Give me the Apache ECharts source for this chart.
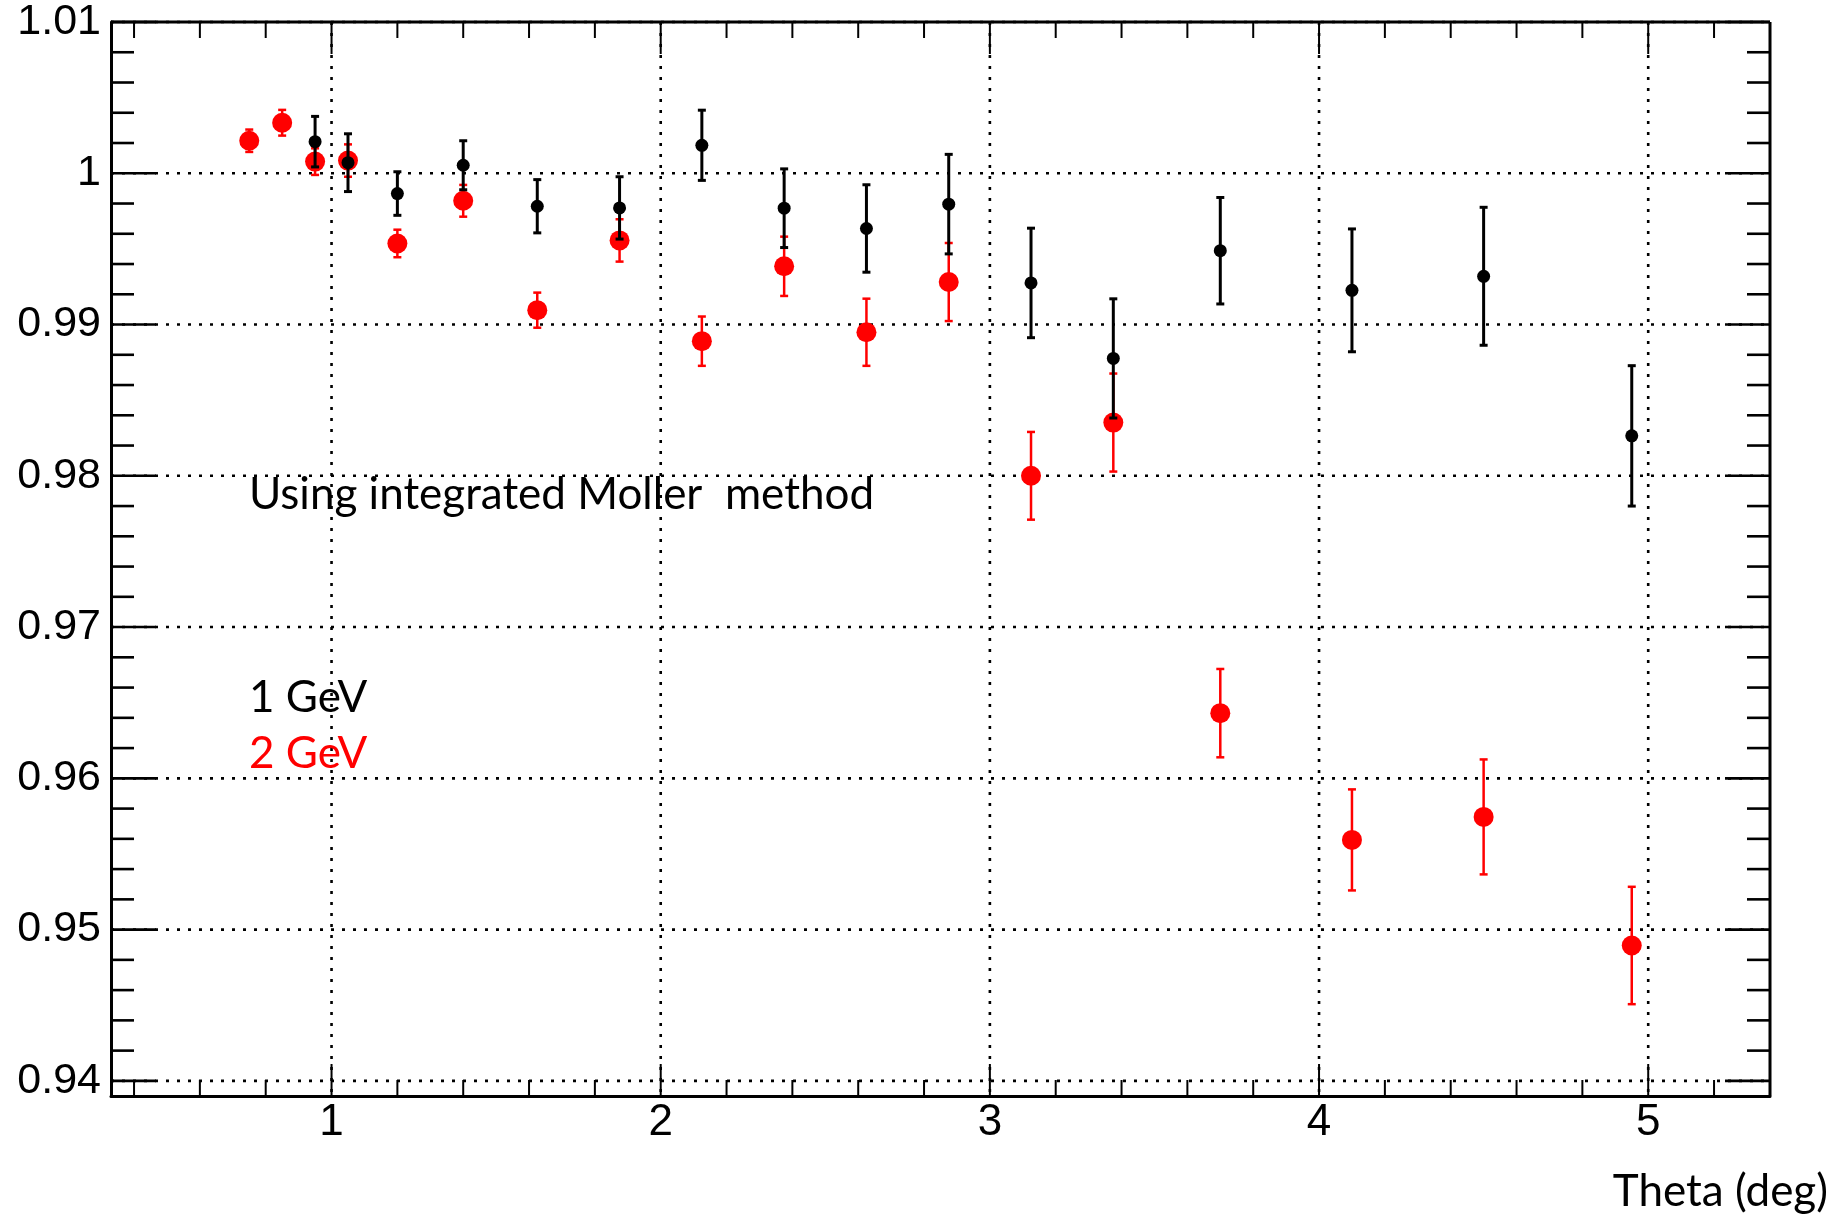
<!DOCTYPE html>
<html><head><meta charset="utf-8">
<script src="https://cdn.jsdelivr.net/npm/echarts@6/dist/echarts.min.js"></script>
<style>html,body{margin:0;padding:0;background:#fff}#c{width:1837px;height:1219px}</style>
</head><body><div id="c"></div>
<script>
// ---- data ----
const theta1GeV = [0.95, 1.05, 1.2, 1.4, 1.625, 1.875, 2.125, 2.375, 2.625, 2.875, 3.125, 3.375, 3.7, 4.1, 4.5, 4.95];
const ratio1GeV = [1.00209, 1.0007, 0.99866, 1.00053, 0.99782, 0.99771, 1.00185, 0.99769, 0.99635, 0.99796, 0.99275, 0.98776, 0.99488, 0.99226, 0.99319, 0.98264];
const err1GeV   = [0.00167, 0.00191, 0.00144, 0.00162, 0.00176, 0.00206, 0.00232, 0.0026, 0.00289, 0.00329, 0.00362, 0.00394, 0.00352, 0.00406, 0.00456, 0.00464];

const theta2GeV = [0.75, 0.85, 0.95, 1.05, 1.2, 1.4, 1.625, 1.875, 2.125, 2.375, 2.625, 2.875, 3.125, 3.375, 3.7, 4.1, 4.5, 4.95];
const ratio2GeV = [1.00215, 1.00334, 1.00077, 1.00084, 0.99536, 0.99818, 0.99095, 0.99556, 0.9889, 0.99385, 0.98949, 0.99281, 0.98, 0.98352, 0.96431, 0.95593, 0.95745, 0.94895];
const err2GeV   = [0.00074, 0.00085, 0.00088, 0.00107, 0.00091, 0.00105, 0.00116, 0.0014, 0.00163, 0.00196, 0.00222, 0.00258, 0.0029, 0.00324, 0.00292, 0.00334, 0.0038, 0.00388];

const xTickLabels = [1, 2, 3, 4, 5];
const yTickLabels = [0.94, 0.95, 0.96, 0.97, 0.98, 0.99, 1, 1.01];
const xRange = [0.33, 5.37];
const yRange = [0.939, 1.01];
const xMinorStep = 0.2;
const yMinorStep = 0.002;

// ---- minor tick positions (axis decoration only) ----
function minorTicks(lo, hi, step) {
  const out = [];
  const start = Math.ceil(lo / step - 1e-9);
  for (let k = start; k * step <= hi + 1e-9; k++) out.push(+(k * step).toFixed(6));
  return out;
}
const xMinor = minorTicks(xRange[0], xRange[1], xMinorStep);
const yMinor = minorTicks(yRange[0], yRange[1], yMinorStep);

function isMajor(v, majors) { return majors.some(m => Math.abs(m - v) < 1e-7); }

function renderFrame(params, api) {
  const ch = [];
  const bl = api.coord([xRange[0], yRange[0]]);
  const tr = api.coord([xRange[1], yRange[1]]);
  const L = bl[0], B = bl[1], R = tr[0], T = tr[1];
  const grid = {stroke: '#000', lineWidth: 2.6, lineDash: [3, 8]};
  const tick = {stroke: '#000', lineWidth: 2};
  const ytick = {stroke: '#000', lineWidth: 2.6};
  xTickLabels.forEach(v => {
    const x = api.coord([v, yRange[0]])[0];
    ch.push({type: 'line', shape: {x1: x, y1: T, x2: x, y2: B}, style: grid});
  });
  yTickLabels.forEach(v => {
    const y = api.coord([xRange[0], v])[1];
    ch.push({type: 'line', shape: {x1: L, y1: y, x2: R, y2: y}, style: grid});
  });
  xMinor.forEach(v => {
    const x = api.coord([v, yRange[0]])[0];
    const len = isMajor(v, xTickLabels) ? 32 : 16;
    ch.push({type: 'line', shape: {x1: x, y1: B, x2: x, y2: B - len}, style: tick});
    ch.push({type: 'line', shape: {x1: x, y1: T, x2: x, y2: T + len}, style: tick});
  });
  yMinor.forEach(v => {
    const y = api.coord([xRange[0], v])[1];
    const len = isMajor(v, yTickLabels) ? 45 : 23;
    ch.push({type: 'line', shape: {x1: L, y1: y, x2: L + len, y2: y}, style: ytick});
    ch.push({type: 'line', shape: {x1: R, y1: y, x2: R - len, y2: y}, style: ytick});
  });
  ch.push({type: 'line', shape: {x1: L, y1: T, x2: R, y2: T}, style: {stroke: '#000', lineWidth: 3}});
  ch.push({type: 'line', shape: {x1: R, y1: T, x2: R, y2: B}, style: {stroke: '#000', lineWidth: 3}});
  return {type: 'group', children: ch};
}

function errRender(color, lw, cap) {
  return function (params, api) {
    const x = api.value(0), y = api.value(1), e = api.value(2);
    const hi = api.coord([x, y + e]), lo = api.coord([x, y - e]);
    const st = {stroke: color, lineWidth: lw};
    return {type: 'group', children: [
      {type: 'line', shape: {x1: hi[0], y1: hi[1], x2: lo[0], y2: lo[1]}, style: st},
      {type: 'line', shape: {x1: hi[0] - cap, y1: hi[1], x2: hi[0] + cap, y2: hi[1]}, style: st},
      {type: 'line', shape: {x1: lo[0] - cap, y1: lo[1], x2: lo[0] + cap, y2: lo[1]}, style: st}
    ]};
  };
}

const d1 = theta1GeV.map((t, i) => [t, ratio1GeV[i], err1GeV[i]]);
const d2 = theta2GeV.map((t, i) => [t, ratio2GeV[i], err2GeV[i]]);

const chart = echarts.init(document.getElementById('c'), null, {renderer: 'canvas'});
chart.setOption({
  animation: false,
  backgroundColor: '#fff',
  grid: {left: 111, right: 67, top: 22, bottom: 123, containLabel: false, outerBoundsMode: 'none'},
  xAxis: {
    type: 'value', min: xRange[0], max: xRange[1],
    axisLine: {show: true, lineStyle: {color: '#000', width: 3}},
    axisTick: {show: false},
    splitLine: {show: false},
    axisLabel: {customValues: xTickLabels, fontFamily: 'Liberation Sans', fontSize: 44, color: '#000', margin: 5}
  },
  yAxis: {
    type: 'value', min: yRange[0], max: yRange[1],
    axisLine: {show: true, lineStyle: {color: '#000', width: 3}},
    axisTick: {show: false},
    splitLine: {show: false},
    axisLabel: {customValues: yTickLabels, fontFamily: 'Liberation Sans', fontSize: 43, color: '#000', margin: 10}
  },
  graphic: [
    {type: 'text', x: 249, y: 495, z: 10, style: {text: 'Using integrated Moller  method', font: '44px Lato', fill: '#000', align: 'left', verticalAlign: 'middle'}},
    {type: 'text', x: 249, y: 698, z: 10, style: {text: '1 GeV', font: '44px Lato', fill: '#000', align: 'left', verticalAlign: 'middle'}},
    {type: 'text', x: 249, y: 754, z: 10, style: {text: '2 GeV', font: '44px Lato', fill: '#ff0000', align: 'left', verticalAlign: 'middle'}},
    {type: 'text', x: 1828, y: 1192, z: 10, style: {text: 'Theta (deg)', font: '44px Lato', fill: '#000', align: 'right', verticalAlign: 'middle'}}
  ],
  series: [
    {type: 'custom', name: 'frame', z: 1, silent: true, data: [[xRange[0], yRange[0]]], renderItem: renderFrame},
    {type: 'custom', name: '2 GeV errors', z: 2, data: d2, encode: {x: 0, y: 1}, renderItem: errRender('#ff0000', 2.5, 4)},
    {type: 'scatter', name: '2 GeV', z: 3, data: d2.map(d => [d[0], d[1]]), symbol: 'circle', symbolSize: 20, itemStyle: {color: '#ff0000', opacity: 1}},
    {type: 'custom', name: '1 GeV errors', z: 4, data: d1, encode: {x: 0, y: 1}, renderItem: errRender('#000', 3, 4)},
    {type: 'scatter', name: '1 GeV', z: 5, data: d1.map(d => [d[0], d[1]]), symbol: 'circle', symbolSize: 13, itemStyle: {color: '#000', opacity: 1}}
  ]
});
</script></body></html>
